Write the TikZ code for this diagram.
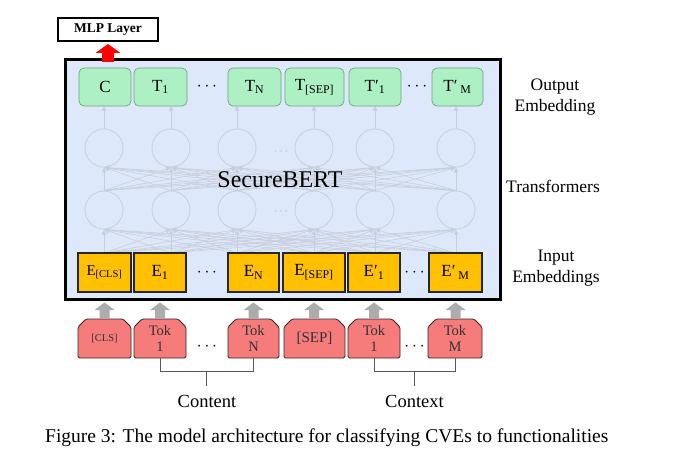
\documentclass[tikz,border=0pt]{standalone}
\usepackage{fontspec}
\setmainfont{Liberation Serif}
\usetikzlibrary{arrows.meta}
\definecolor{bgblue}{RGB}{221,232,250}
\definecolor{outgreen}{RGB}{172,240,196}
\definecolor{outborder}{RGB}{120,160,130}
\definecolor{inorange}{RGB}{255,192,0}
\definecolor{tokred}{RGB}{246,124,124}
\definecolor{tokborder}{RGB}{60,35,35}
\definecolor{faintgray}{RGB}{200,207,220}
\definecolor{arrgray}{RGB}{172,172,172}
\newcommand\tokbox[4]{%
  \filldraw[fill=tokred, draw=tokborder, line width=0.8pt, rounded corners=1.5pt]
    ({#2-#3/2},358) -- ({#2-#3/2},327) -- ({#2-#3/2+8},319) -- ({#2+#3/2-8},319)
    -- ({#2+#3/2},327) -- ({#2+#3/2},358) -- cycle;
  \node[toktext] (#1) at (#2,338.5) {#4};}
\newcommand\grayarrow[1]{%
  \fill[arrgray] ({#1-5},318) -- ({#1-5},310) -- ({#1-10},310) -- (#1,302.5)
    -- ({#1+10},310) -- ({#1+5},310) -- ({#1+5},318) -- cycle;}
\begin{document}
\begin{tikzpicture}[x=1pt,y=-1pt,
  outbox/.style={draw=outborder, fill=outgreen, rounded corners=5pt, minimum height=38pt,
    inner sep=0pt, line width=0.7pt, font=\fontsize{17}{19}\selectfont},
  inbox/.style={draw=black!85, fill=inorange, minimum height=39pt, inner sep=0pt,
    line width=1.1pt, font=\fontsize{17}{19}\selectfont},
  toktext/.style={inner sep=0pt, minimum height=39pt, align=center, text=black!80,
    font=\fontsize{14.5}{16}\selectfont},
  neuron/.style={circle, draw=faintgray, line width=0.8pt, minimum size=38pt, inner sep=0pt},
  fa/.style={draw=faintgray, line width=0.6pt, -{Latex[length=5pt,width=5pt]}},
  dotsl/.style={font=\fontsize{16}{18}\selectfont},
  sidelabel/.style={align=center, font=\fontsize{17.5}{21}\selectfont},
  bracket/.style={draw=black!65, line width=0.8pt}]
\useasboundingbox[fill=white] (0,0) rectangle (675,465);

% MLP layer and red arrow
\node[draw=black, line width=1.4pt, minimum width=100pt, minimum height=23pt, inner sep=0pt,
  font=\fontsize{13.5}{15}\selectfont\bfseries] (mlp) at (108,29.5) {MLP Layer};

% main box
\filldraw[fill=bgblue, draw=black, line width=3pt] (65,60) rectangle (500,299);
\fill[red] (102,62) -- (102,53) -- (95.5,53) -- (108,44) -- (120.5,53) -- (114,53) -- (114,62) -- cycle;

% transformer neurons
\foreach \x [count=\i] in {104,171,237,314,375,456} {
  \node[neuron] (a\i) at (\x,148) {};
  \node[neuron] (b\i) at (\x,210) {};
  \coordinate (s\i) at (\x,253);
}
\foreach \i in {1,...,6} {
  \draw[fa] (a\i.north) -- ++(0,-23);
  \foreach \j in {1,...,6} {
    \draw[fa] (b\i.north) -- (a\j.south);
    \draw[fa] (s\i) -- (b\j.south);
  }
}
\node[text=black!30, font=\fontsize{12}{14}\selectfont] (d1) at (281,152) {$\cdots$};
\node[text=black!30, font=\fontsize{12}{14}\selectfont] (d2) at (281,212) {$\cdots$};

% output embeddings
\node[outbox, minimum width=52pt] (o1) at (105,87) {C};
\node[outbox, minimum width=53pt] (o2) at (160.5,87) {T\textsubscript{1}};
\node[outbox, minimum width=53pt] (o3) at (254.5,87) {T\textsubscript{N}};
\node[outbox, minimum width=59pt] (o4) at (314.5,87) {T\textsubscript{[SEP]}};
\node[outbox, minimum width=52pt] (o5) at (375,87) {T′\textsubscript{1}};
\node[outbox, minimum width=51pt] (o6) at (457.5,87) {T′\,\textsubscript{M}};
\node[dotsl] (od1) at (207,87) {$\cdots$};
\node[dotsl] (od2) at (417,87) {$\cdots$};

% input embeddings
\node[inbox, minimum width=53pt, font=\fontsize{15}{17}\selectfont] (e1) at (104.5,272.5) {E\textsubscript{[CLS]}};
\node[inbox, minimum width=52pt] (e2) at (160,272.5) {E\textsubscript{1}};
\node[inbox, minimum width=51pt] (e3) at (253.5,272.5) {E\textsubscript{N}};
\node[inbox, minimum width=62pt] (e4) at (314,272.5) {E\textsubscript{[SEP]}};
\node[inbox, minimum width=52pt] (e5) at (374,272.5) {E′\textsubscript{1}};
\node[inbox, minimum width=53pt] (e6) at (455.5,272.5) {E′\,\textsubscript{M}};
\node[dotsl] (ed1) at (207,273) {$\cdots$};
\node[dotsl] (ed2) at (414.5,273) {$\cdots$};

\node[font=\fontsize{24}{27}\selectfont] (sb) at (280,180) {SecureBERT};

% gray arrows
\foreach \x in {104.5,160,253.5,314,374,455.5} { \grayarrow{\x} }

% tokens
\tokbox{k1}{104.5}{53}{\fontsize{10.5}{12}\selectfont [CLS]}
\tokbox{k2}{160}{52}{Tok\\1}
\tokbox{k3}{253.5}{51}{Tok\\N}
\tokbox{k4}{314.5}{61}{\fontsize{15}{17}\selectfont [SEP]}
\tokbox{k5}{374}{52}{Tok\\1}
\tokbox{k6}{455}{54}{Tok\\M}
\node[dotsl] (kd1) at (207,347) {$\cdots$};
\node[dotsl] (kd2) at (414.5,347) {$\cdots$};

% brackets
\draw[bracket] (k2.south) -- ++(0,13) -| (k3.south);
\draw[bracket] (k5.south) -- ++(0,13) -| (k6.south);
\coordinate (c1) at (206.75,371);
\coordinate (c2) at (414.5,371);
\node[sidelabel, font=\fontsize{18.5}{21}\selectfont] (content) at (207,401) {Content};
\node[sidelabel, font=\fontsize{18.5}{21}\selectfont] (context) at (414.5,401) {Context};
\draw[bracket] (c1) -- ++(0,15);
\draw[bracket] (c2) -- ++(0,15);

% side labels
\node[sidelabel] (lo) at (555,97) {Output\\Embedding};
\node[sidelabel] (lt) at (553,186) {Transformers};
\node[sidelabel] (li) at (556,268.5) {Input\\Embeddings};

% caption
\node[anchor=west, inner sep=0pt, font=\fontsize{19.5}{23}\selectfont] (cap) at (45,438)
  {Figure 3: The model architecture for classifying CVEs to functionalities};
\end{tikzpicture}
\end{document}
